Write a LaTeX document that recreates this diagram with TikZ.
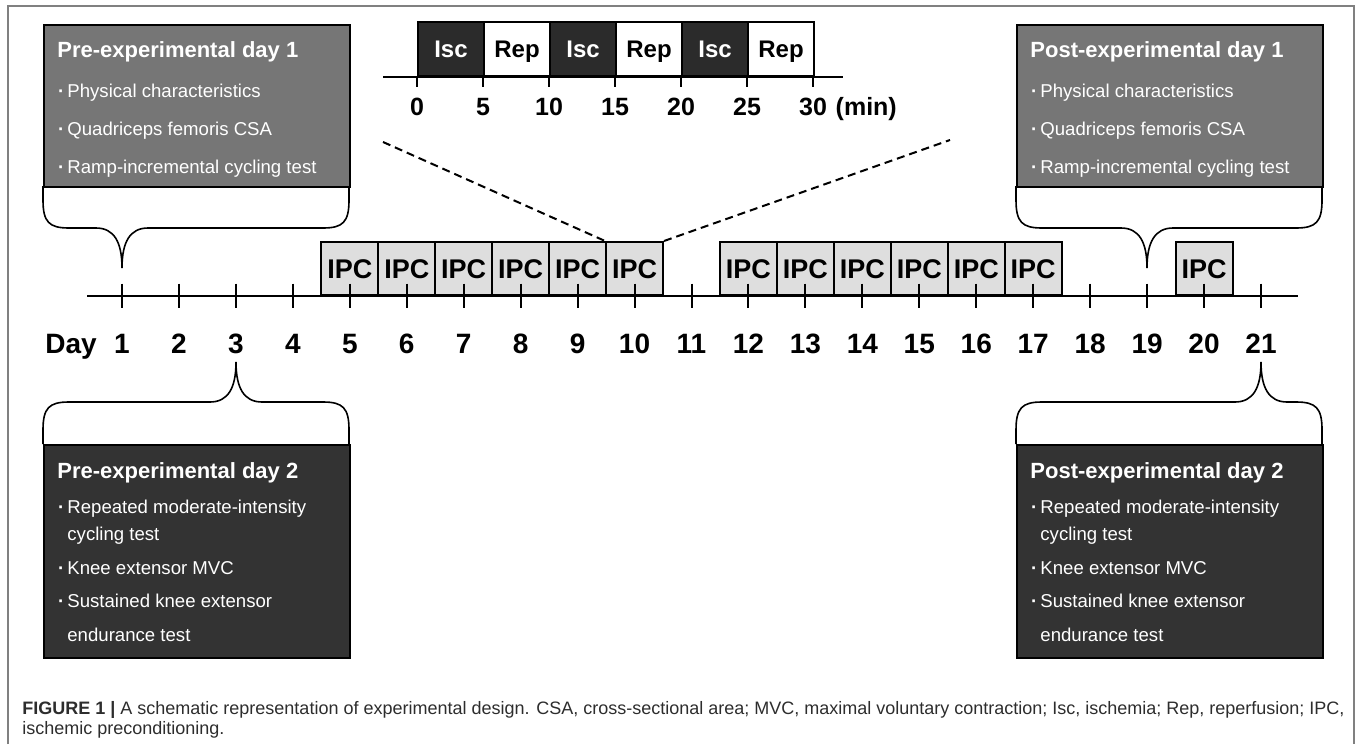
\documentclass[tikz,border=0pt]{standalone}
\usepackage{fontspec}
\setmainfont{Liberation Sans}
\usetikzlibrary{positioning,calc}

\definecolor{boxgray}{RGB}{118,118,118}
\definecolor{boxdark}{RGB}{51,51,51}
\definecolor{iscfill}{RGB}{43,43,43}
\definecolor{ipcfill}{RGB}{222,222,222}
\definecolor{capgray}{RGB}{45,45,45}
\definecolor{framegray}{RGB}{128,128,128}

% bullet of the list items
\newcommand{\itm}{\llap{\textbf{·}\hspace{1.5pt}}}
% brace-like callout: left x, right x, box edge y, tip x, direction
\newcommand{\callout}[5]{%
  \draw[brace] (#1,#3) -- (#1,{#3+(#5)*14})
    .. controls (#1,{#3+(#5)*36}) and ({#1+6},{#3+(#5)*42}) .. ({#1+26},{#3+(#5)*42})
    -- ({#4-26},{#3+(#5)*42})
    .. controls ({#4-8},{#3+(#5)*42}) and (#4,{#3+(#5)*56}) .. (#4,{#3+(#5)*82})
    .. controls (#4,{#3+(#5)*56}) and ({#4+8},{#3+(#5)*42}) .. ({#4+26},{#3+(#5)*42})
    -- ({#2-26},{#3+(#5)*42})
    .. controls ({#2-6},{#3+(#5)*42}) and (#2,{#3+(#5)*36}) .. (#2,{#3+(#5)*14})
    -- (#2,#3);}

\begin{document}
\begin{tikzpicture}[x=0.5pt,y=-0.5pt,
  axis/.style={line width=1pt},
  brace/.style={line width=0.8pt},
  zoomline/.style={line width=1pt, dash pattern=on 4pt off 2.5pt},
  ipcbox/.style={draw, line width=1pt, fill=ipcfill, minimum width=28.47pt,
    minimum height=26.5pt, inner sep=0pt, anchor=south,
    font=\bfseries\fontsize{13.5}{14}\selectfont, text height=9.7pt, text depth=0pt},
  minbox/.style={draw, line width=1pt, minimum width=33pt, minimum height=27pt,
    inner sep=0pt, anchor=south west, font=\bfseries\fontsize{12}{13}\selectfont,
    text height=8.6pt, text depth=0pt},
  isc/.style={minbox, fill=iscfill, text=white},
  rep/.style={minbox, fill=white},
  daylab/.style={font=\bfseries\fontsize{14}{15}\selectfont, anchor=base, inner sep=0pt},
  minlab/.style={font=\bfseries\fontsize{12.5}{13}\selectfont, anchor=base, inner sep=0pt},
  infobox/.style={draw, line width=1pt, minimum width=153pt, inner sep=0pt, anchor=north west},
  boxtitle/.style={text=white, font=\bfseries\fontsize{11}{12}\selectfont, anchor=base west, inner sep=0pt},
  boxitem/.style={text=white, font=\fontsize{9.3}{10}\selectfont, anchor=base west, inner sep=0pt},
  caption/.style={text=capgray, font=\fontsize{9}{10}\selectfont, anchor=base west, inner sep=0pt}]
\useasboundingbox (0,0) rectangle (1358,744);
\draw[framegray, line width=0.8pt] (8,744) -- (8,6) -- (1354,6) -- (1354,744);

% day positions
\foreach \d in {1,...,21} {
  \pgfmathsetmacro\xx{122+56.95*(\d-1)}
  \coordinate (t\d) at (\xx,296);
  \node[daylab] (d\d) at (\xx,353) {\d};
}
\node[daylab] (daylab) at (71,353) {Day};

% IPC sessions
\foreach \d in {5,...,10,12,13,...,17,20}
  \node[ipcbox] (ipc\d) at (t\d) {IPC};

% time axis
\coordinate (axl) at (87,296);
\coordinate (axr) at (1298,296);
\draw[axis] (axl) -- (axr);
\foreach \d in {1,...,21}
  \draw[axis] ($(t\d)+(0,-12.5)$) -- ($(t\d)+(0,12)$);

% one IPC session in minutes
\foreach \k/\s/\l in {0/isc/Isc,1/rep/Rep,2/isc/Isc,3/rep/Rep,4/isc/Isc,5/rep/Rep}
  \node[\s] (seg\k) at ({417+66*\k},77) {\l};
\coordinate (mnl) at (383,77);
\coordinate (mnr) at (843,77);
\draw[axis] (mnl) -- (mnr);
\foreach \k/\m in {0/0,1/5,2/10,3/15,4/20,5/25,6/30} {
  \draw[axis] ({417+66*\k},77) -- ({417+66*\k},87);
  \node[minlab] (m\m) at ({417+66*\k},115) {\m};
}
\node[minlab, anchor=base west] (unit) at ([xshift=4pt]m30.base east) {(min)};

% zoom lines
\coordinate (zl) at (383,142);
\coordinate (zr) at (950,140);
\draw[zoomline] (zl) -- (ipc10.north west);
\draw[zoomline] (ipc10.north east) -- (zr);

% callouts
\callout{43}{349}{186}{122}{1}
\callout{1016}{1322}{186}{1147}{1}
\callout{43}{349}{444}{236}{-1}
\callout{1016}{1322}{444}{1261}{-1}

% measurement boxes
\foreach \bx/\nm/\pp in {43/pre/Pre, 1016/post/Post} {
  \node[infobox, fill=boxgray, minimum height=81pt] (\nm1) at (\bx,24) {};
  \node[infobox, fill=boxdark, minimum height=106.5pt] (\nm2) at (\bx,444) {};
  \node[boxtitle] (\nm1t) at (\bx+14,57) {\pp-experimental day 1};
  \node[boxtitle] (\nm2t) at (\bx+14,478) {\pp-experimental day 2};
  \foreach \iy/\it [count=\i] in {97/Physical characteristics,
      135/Quadriceps femoris CSA, 173/Ramp-incremental cycling test}
    \node[boxitem] (\nm1i\i) at (\bx+24,\iy) {\itm\it};
  \foreach \iy/\it/\b [count=\i] in {513/Repeated moderate-intensity/1,
      540/cycling test/0, 574/Knee extensor MVC/1,
      607/Sustained knee extensor/1, 641/endurance test/0}
    \node[boxitem] (\nm2i\i) at (\bx+24,\iy) {\ifnum\b=1 \itm\fi\it};
}

% caption
\node[caption] (cap1) at (22,714) {\textbf{FIGURE 1 |} A schematic representation of experimental design. CSA, cross-sectional area; MVC, maximal voluntary contraction; Isc, ischemia; Rep, reperfusion; IPC,};
\node[caption] (cap2) at (22,734) {ischemic preconditioning.};
\end{tikzpicture}
\end{document}
